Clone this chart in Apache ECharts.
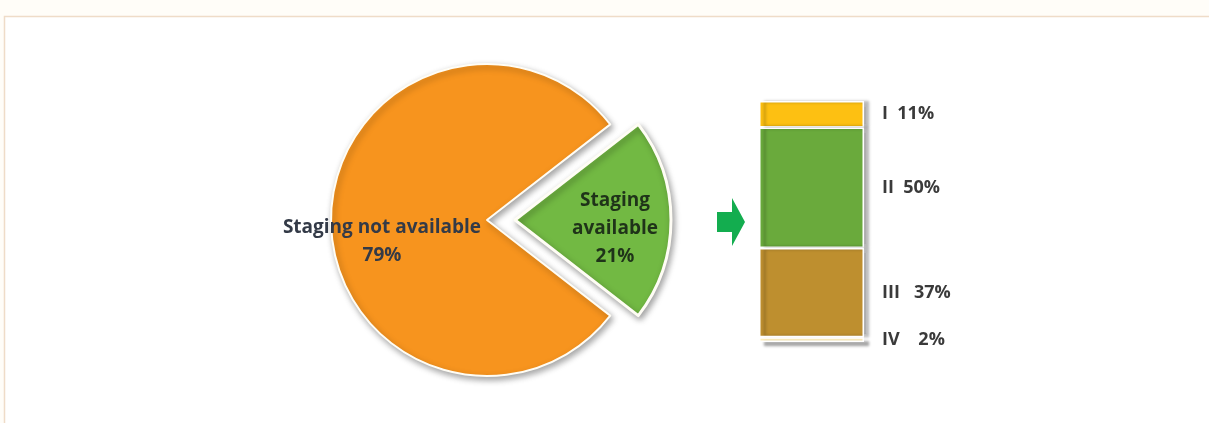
<!DOCTYPE html>
<html>
<head>
<meta charset="utf-8">
<script src="https://cdn.jsdelivr.net/npm/echarts@6/dist/echarts.min.js"></script>
<style>
html,body{margin:0;padding:0;background:#FFFDF8;}
#c{width:1209px;height:423px;}
</style>
</head>
<body>
<div id="c"></div>
<script>
// ---- data ----
const pieNames = ['Staging available', 'Staging not available'];
const pieValues = [21, 79];
const pieLabels = ['Staging\navailable\n21%', 'Staging not available\n79%'];
const pieColors = ['#72B943', '#F7941E'];
const pieLabelColors = ['#1F3319', '#333A47'];

const stageNames = ['I', 'II', 'III', 'IV'];
const stageValues = [11, 50, 37, 2];
const stageLabels = ['I  11%', 'II  50%', 'III   37%', 'IV    2%'];
const stageColors = ['#FDC012', '#6AAA3C', '#BE8F2F', '#FFEFBE'];

const chart = echarts.init(document.getElementById('c'), null, {renderer: 'canvas'});

const labelShift = [{dx: 19, dy: 9}, {dx: -24, dy: 22}];

const pieData = pieNames.map((n, i) => ({
  name: n,
  value: pieValues[i],
  selected: i === 0,
  itemStyle: {color: pieColors[i], borderWidth: i === 0 ? 3 : 2},
  label: {formatter: pieLabels[i], color: pieLabelColors[i]}
}));

const barSeries = stageNames.map((n, i) => ({
  type: 'bar',
  name: n,
  stack: 'total',
  barWidth: '100%',
  data: [stageValues[i]],
  silent: true,
  itemStyle: {
    color: stageColors[i],
    borderColor: '#FFFFFF',
    borderWidth: 1.5,
    shadowColor: 'rgba(0,0,0,0.3)',
    shadowBlur: 3,
    shadowOffsetX: 5,
    shadowOffsetY: i === stageNames.length - 1 ? 4 : 0
  },
  label: {
    show: true,
    position: 'right',
    distance: 18,
    formatter: stageLabels[i],
    fontFamily: 'Open Sans',
    fontWeight: 'bold',
    fontSize: 18,
    color: '#3A3A3A'
  }
}));

chart.setOption({
  backgroundColor: '#FFFDF8',
  animation: false,
  graphic: [
    {
      type: 'rect', z: -10,
      shape: {x: 4.5, y: 16.5, width: 1300, height: 500},
      style: {fill: '#FFFFFF', stroke: '#EFDCC8', lineWidth: 1.5}
    },
    {
      type: 'polygon', z: 5,
      shape: {points: [[717, 212], [732, 212], [732, 198], [745, 222], [732, 246], [732, 232], [717, 232]]},
      style: {fill: '#13AD4F'}
    }
  ],
  grid: {left: 759, top: 101, width: 105, height: 241},
  xAxis: {type: 'category', data: ['Stage'], show: false},
  yAxis: {type: 'value', min: 0, max: 100, inverse: true, show: false},
  series: [
    {
      type: 'pie',
      center: [487, 220],
      radius: 156,
      startAngle: 37.8,
      clockwise: true,
      selectedMode: 'single',
      selectedOffset: 28,
      silent: true,
      emphasis: {disabled: true},
      itemStyle: {
        borderColor: '#FFFDF5',
        shadowColor: 'rgba(0,0,0,0.35)',
        shadowBlur: 6,
        shadowOffsetX: 2,
        shadowOffsetY: 3
      },
      label: {
        show: true,
        position: 'inside',
        fontFamily: 'Open Sans',
        fontWeight: 'bold',
        fontSize: 19,
        lineHeight: 28,
        align: 'center'
      },
      labelLine: {show: false},
      labelLayout: function (p) { return labelShift[p.dataIndex]; },
      data: pieData
    }
  ].concat(barSeries)
});
</script>
</body>
</html>
